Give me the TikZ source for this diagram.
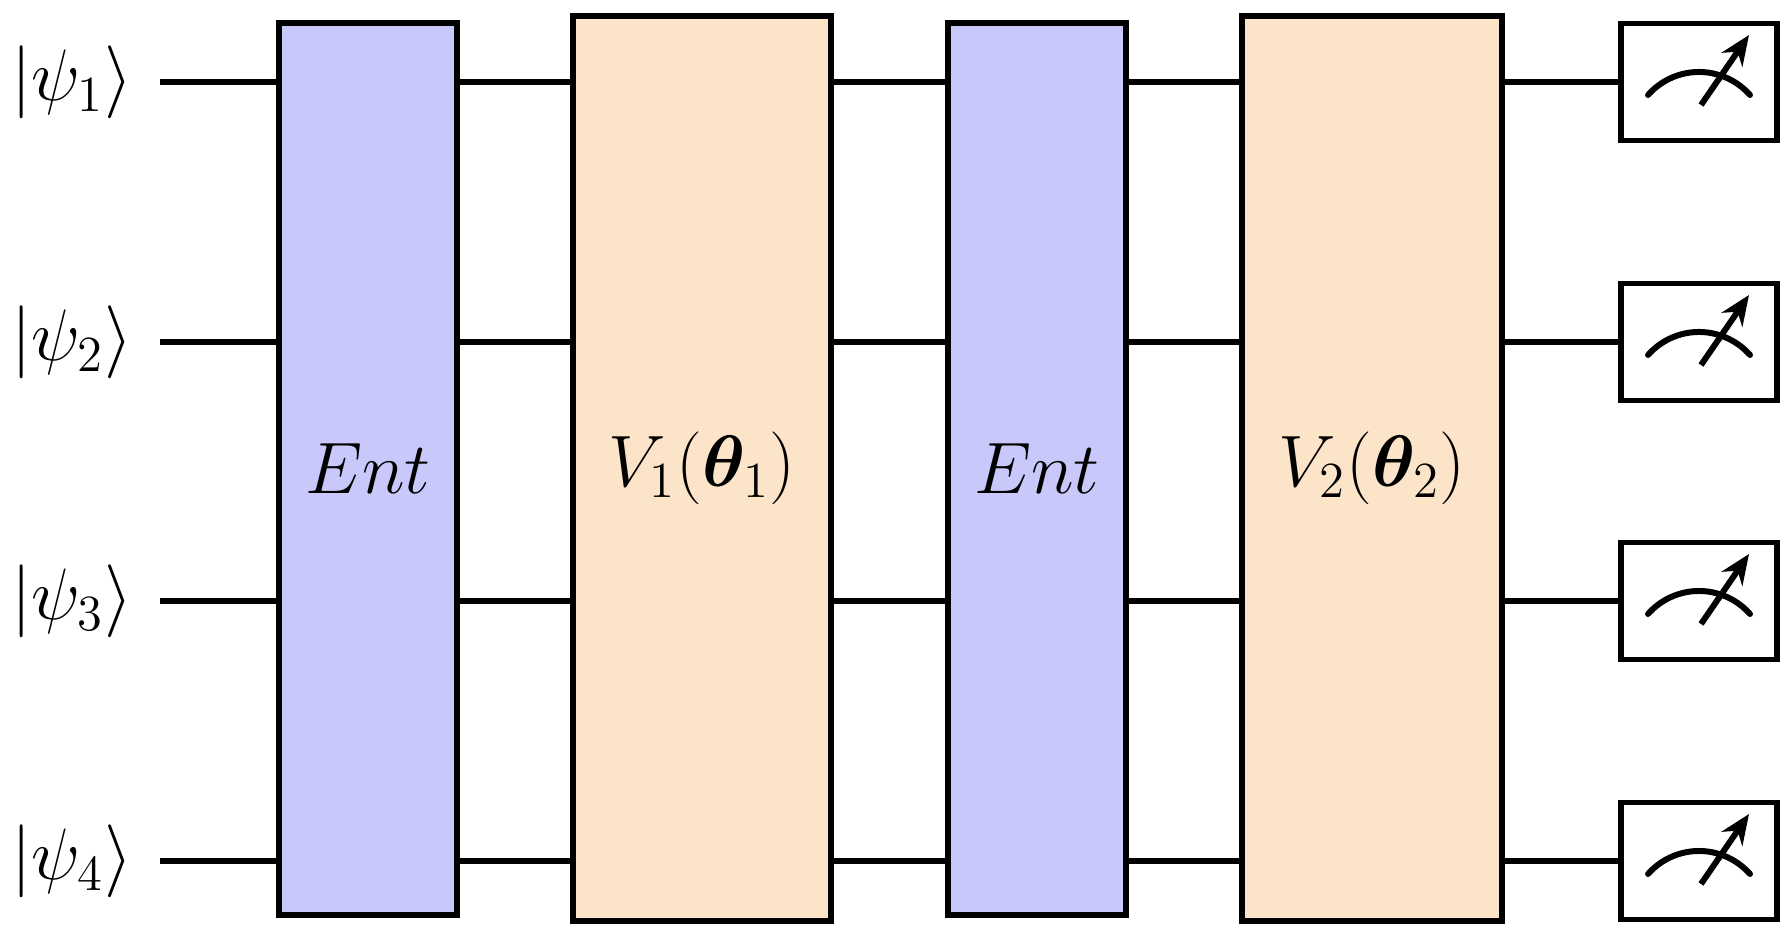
\documentclass[tikz,border=0pt]{standalone}
\usepackage{bm}
\usetikzlibrary{arrows.meta, backgrounds}
\definecolor{entblue}{RGB}{200,200,250}
\definecolor{varorange}{RGB}{252,228,200}
\tikzset{
  gate/.style={draw, line width=1.7pt, minimum height=8.92cm, font=\fontsize{22}{26}\selectfont},
  ent/.style={gate, fill=entblue, minimum width=1.78cm},
  var/.style={gate, fill=varorange, minimum width=2.58cm, minimum height=9.05cm},
  meter/.style={draw, line width=1.7pt, fill=white, minimum width=1.56cm, minimum height=1.17cm},
  wire/.style={line width=1.7pt}
}
\begin{document}
\begin{tikzpicture}
		\useasboundingbox (0,0) rectangle (17.87,9.41);
		% Gates
		\node[ent] (ent1) at (3.68,4.72) {$Ent$};
		\node[var] (var1) at (7.02,4.725) {$V_1(\bm{\theta}_1)$};
		\node[ent] (ent2) at (10.37,4.72) {$Ent$};
		\node[var, minimum width=2.60cm] (var2) at (13.72,4.725) {$V_2(\bm{\theta}_2)$};
		
		% Qubit wires with inputs and measurements
		\foreach \i/\y in {1/8.59, 2/5.99, 3/3.40, 4/0.80} {
			\node[font=\fontsize{22}{26}\selectfont] (psi\i) at (0.72,\y) {$|\psi_\i\rangle$};
			\coordinate (w\i) at (1.60,\y);
			\node[meter] (m\i) at (16.99,\y) {};
			\draw[line width=1.7pt, line cap=round] ([shift={(-0.51,-0.13)}]m\i.center) arc (138.6:41.4:0.68);
			\draw[line width=1.7pt, -{Stealth[length=0.3cm,width=0.25cm]}] ([shift={(0.02,-0.23)}]m\i.center) -- ([shift={(0.50,0.47)}]m\i.center);
			\begin{scope}[on background layer]
				\draw[wire] (w\i) -- (m\i.west);
			\end{scope}
		}
	\end{tikzpicture}
\end{document}
